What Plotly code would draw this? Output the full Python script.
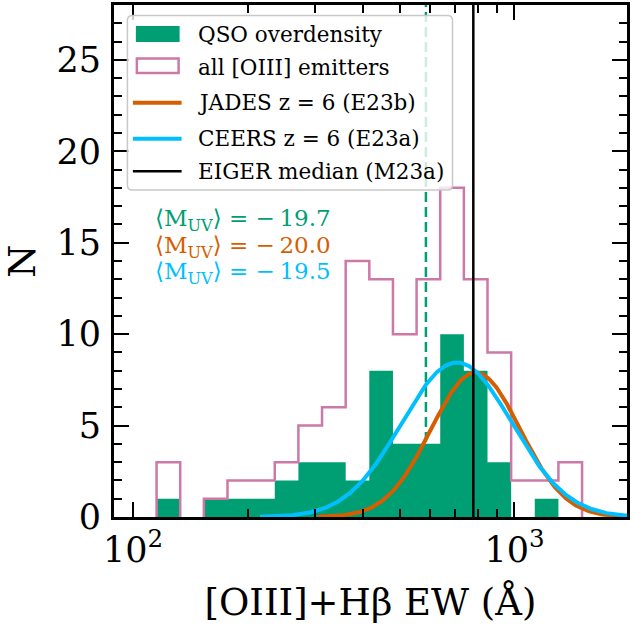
import numpy as np
import plotly.graph_objects as go

# ---- data -------------------------------------------------------------
# logarithmic EW bins shared by both histograms
bin_edges = np.logspace(2, np.log10(2000), 22)
n_all_emitters = [0, 3, 0, 1, 2, 2, 3, 5, 6, 14, 13, 10, 13, 18, 13, 9, 2, 2, 3, 0, 0]
n_qso_field = [0, 1, 0, 1, 1, 1, 2, 3, 3, 2, 8, 4, 4, 10, 8, 3, 0, 1, 0, 0, 0]

qso_median_ew = 586      # dashed line, QSO overdensity median
eiger_median_ew = 780    # EIGER median (M23a)

# log-normal EW distributions: peak EW (A), width (dex), peak height
jades_peak, jades_sigma, jades_amp = 791, 0.117, 7.9
ceers_peak, ceers_sigma, ceers_amp = 706, 0.145, 8.45

muv_values = ["19.7", "20.0", "19.5"]

legend_labels = ["QSO overdensity", "all [OIII] emitters", "JADES z = 6 (E23b)",
                 "CEERS z = 6 (E23a)", "EIGER median (M23a)"]

# ---- style ------------------------------------------------------------
GREEN = "#009E73"
PINK = "#CC79A7"
ORANGE = "#D55E00"
CYAN = "#00BFFF"
FONT = "DejaVu Serif"

W, H = 632, 633
ML, MR, MT, MB = 114, 2, 5, 116
PW, PH = W - ML - MR, H - MT - MB
X_RANGE = [np.log10(89.2), np.log10(1972)]
Y_RANGE = [0, 28]
CURVE_FLOOR = 0.015      # curve tails below this are not drawn


def px(x):
    return (x - ML) / PW


def py(y):
    return (H - MB - y) / PH


def step_fill(edges, counts):
    xs, ys = [edges[0]], [0]
    for i, c in enumerate(counts):
        xs += [edges[i], edges[i + 1]]
        ys += [c, c]
    xs.append(edges[-1])
    ys.append(0)
    return xs, ys


def step_outline(edges, counts):
    xs, ys = [], []
    i, n = 0, len(counts)
    while i < n:
        if counts[i] == 0:
            i += 1
            continue
        xs.append(edges[i])
        ys.append(0)
        j = i
        while j < n and counts[j] > 0:
            xs += [edges[j], edges[j + 1]]
            ys += [counts[j], counts[j]]
            j += 1
        xs += [edges[j], None]
        ys += [0, None]
        i = j
    return xs, ys


def lognormal(x, peak, sigma, amp):
    return amp * np.exp(-0.5 * ((np.log10(x) - np.log10(peak)) / sigma) ** 2)


fig = go.Figure()

fig.add_trace(go.Scatter(x=[qso_median_ew, qso_median_ew], y=Y_RANGE, mode="lines",
                         line=dict(color=GREEN, width=2.5, dash="10px,5px"),
                         showlegend=False, hoverinfo="skip"))

fx, fy = step_fill(bin_edges, n_qso_field)
fig.add_trace(go.Scatter(x=fx, y=fy, mode="lines", fill="tozeroy", fillcolor=GREEN,
                         line=dict(width=0, color=GREEN), showlegend=False))

ox, oy = step_outline(bin_edges, n_all_emitters)
fig.add_trace(go.Scatter(x=ox, y=oy, mode="lines",
                         line=dict(color=PINK, width=2.5), showlegend=False))

ew_grid = np.logspace(1.9, 3.35, 500)
for peak, sigma, amp, col in [(jades_peak, jades_sigma, jades_amp, ORANGE),
                              (ceers_peak, ceers_sigma, ceers_amp, CYAN)]:
    yy = lognormal(ew_grid, peak, sigma, amp)
    keep = (yy > CURVE_FLOOR) | (ew_grid > peak)
    fig.add_trace(go.Scatter(x=ew_grid[keep], y=yy[keep], mode="lines",
                             line=dict(color=col, width=4), showlegend=False))

fig.add_trace(go.Scatter(x=[eiger_median_ew, eiger_median_ew], y=Y_RANGE, mode="lines",
                         line=dict(color="black", width=2.5), showlegend=False))


# ---- hand-drawn legend box -------------------------------------------
def rounded_rect(x0, y0, x1, y1, r):
    pts = [
        ("M", x0 + r, y0), ("L", x1 - r, y0), ("Q", x1, y0, x1, y0 + r),
        ("L", x1, y1 - r), ("Q", x1, y1, x1 - r, y1), ("L", x0 + r, y1),
        ("Q", x0, y1, x0, y1 - r), ("L", x0, y0 + r), ("Q", x0, y0, x0 + r, y0),
    ]
    out = []
    for p in pts:
        cmd, coords = p[0], p[1:]
        pairs = [f"{px(coords[k]):.5f},{py(coords[k + 1]):.5f}" for k in range(0, len(coords), 2)]
        out.append(cmd + " " + " ".join(pairs))
    return " ".join(out) + " Z"


shapes = [
    dict(type="path", xref="paper", yref="paper", layer="above",
         path=rounded_rect(127.5, 15.5, 454.5, 190, 5),
         fillcolor="rgba(255,255,255,0.8)", line=dict(color="rgba(195,195,195,0.9)", width=1.5)),
    dict(type="rect", xref="paper", yref="paper", layer="above",
         x0=px(136), x1=px(180), y0=py(42), y1=py(26), fillcolor=GREEN, line=dict(width=0)),
    dict(type="rect", xref="paper", yref="paper", layer="above",
         x0=px(137), x1=px(179), y0=py(73), y1=py(58.5), fillcolor="rgba(0,0,0,0)",
         line=dict(color=PINK, width=2.5)),
]
row_y = [34, 67.5, 102.7, 138.7, 171.2]
for yy, col, wd in [(row_y[2], ORANGE, 4), (row_y[3], CYAN, 4), (row_y[4], "black", 2.5)]:
    shapes.append(dict(type="line", xref="paper", yref="paper", layer="above",
                       x0=px(133), x1=px(182), y0=py(yy), y1=py(yy),
                       line=dict(color=col, width=wd)))

annotations = []
for yy, lab in zip(row_y, legend_labels):
    annotations.append(dict(xref="paper", yref="paper", x=px(196), y=py(yy), text=lab,
                            xanchor="left", yanchor="middle", showarrow=False,
                            font=dict(family=FONT, size=21.5, color="black")))

for yy, col, val in zip([219.5, 246.5, 273], [GREEN, ORANGE, CYAN], muv_values):
    annotations.append(dict(xref="paper", yref="paper", x=px(244), y=py(yy),
                            text=f"⟨M<sub>UV</sub>⟩ = −\u2009{val}",
                            xanchor="center", yanchor="middle", showarrow=False,
                            font=dict(family=FONT, size=23, color=col)))

axis_common = dict(
    showline=True, linewidth=3, linecolor="black", mirror="allticks",
    ticks="inside", tickwidth=2, tickcolor="black", ticklen=15,
    showgrid=False, zeroline=False,
    tickfont=dict(family=FONT, size=35, color="black"),
)

fig.update_layout(
    width=W, height=H,
    margin=dict(l=ML, r=MR, t=MT, b=MB, pad=0),
    paper_bgcolor="white", plot_bgcolor="white",
    shapes=shapes, annotations=annotations, showlegend=False,
    xaxis=dict(type="log", range=X_RANGE, tickvals=[100, 1000],
               ticktext=["10<sup>2</sup>", "10<sup>3</sup>"],
               minor=dict(tickvals=[200, 300, 400, 500, 600, 700, 800, 900],
                          ticks="inside", ticklen=8, tickwidth=1.5, tickcolor="black",
                          showgrid=False),
               title=dict(text="[OIII]+Hβ EW (Å)", font=dict(family=FONT, size=37, color="black"),
                          standoff=21),
               **axis_common),
    yaxis=dict(range=Y_RANGE, tickvals=[0, 5, 10, 15, 20, 25], ticklabelstandoff=3,
               minor=dict(dtick=1, ticks="inside", ticklen=8, tickwidth=1.5, tickcolor="black",
                          showgrid=False),
               title=dict(text="N", font=dict(family=FONT, size=38, color="black"), standoff=12),
               **axis_common),
)

fig.write_html("out.html")
